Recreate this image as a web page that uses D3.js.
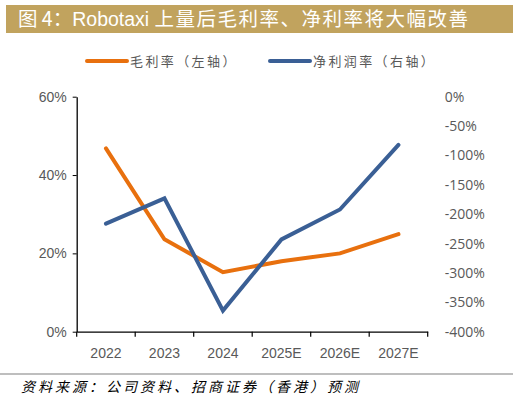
<!DOCTYPE html>
<html>
<head>
<meta charset="utf-8">
<script src="https://cdn.jsdelivr.net/npm/d3@7"></script>
<style>
  body { margin: 0; background: #fff; }
  svg { display: block; font-family: "Liberation Sans", Arial, sans-serif; }
</style>
</head>
<body>
<svg id="chart" width="518" height="401"></svg>
<script>
const years = ["2022", "2023", "2024", "2025E", "2026E", "2027E"];
const grossMargin = [46.8, 23.6, 15.2, 18.0, 20.0, 24.9];
const netMargin = [-216, -173, -364, -243, -192, -82];
const leftTicks = [0, 20, 40, 60];
const rightTicks = [0, -50, -100, -150, -200, -250, -300, -350, -400];

const svg = d3.select("#chart");
const cjk = '"Noto Sans CJK SC", sans-serif';

// title bar
svg.append("rect")
    .attr("x", 6).attr("y", 5)
    .attr("width", 507).attr("height", 28)
    .attr("fill", "#C1A35E");
const title = svg.append("text")
    .attr("x", 18).attr("y", 26)
    .attr("fill", "#fff")
    .attr("font-size", 19.5)
    .attr("font-family", cjk);
title.append("tspan").text("图 4：");
title.append("tspan").attr("font-family", '"Liberation Sans", sans-serif').text("Robotaxi ");
title.append("tspan").attr("letter-spacing", 1.5).text("上量后毛利率、净利率将大幅改善");

const plotLeft = 76.7, plotRight = 427.7, plotTop = 96.7, plotBottom = 331.7;

const x = d3.scaleBand().domain(years).range([plotLeft, plotRight]);
const yL = d3.scaleLinear().domain([0, 60]).range([plotBottom, plotTop]);
const yR = d3.scaleLinear().domain([-400, 0]).range([plotBottom, plotTop]);

// left axis
const gL = svg.append("g")
    .attr("transform", `translate(${plotLeft},0)`)
    .call(d3.axisLeft(yL).tickValues(leftTicks).tickFormat(d => d + "%").tickSize(4).tickSizeOuter(0));
gL.select(".domain").attr("stroke", "#000").attr("stroke-width", 1.3);
gL.selectAll(".tick line").attr("stroke", "#000");
gL.selectAll("text").attr("fill", "#595959").attr("font-size", 14).attr("x", -10);

// right axis (labels only)
const gR = svg.append("g")
    .attr("transform", `translate(${plotRight},0)`)
    .call(d3.axisRight(yR).tickValues(rightTicks).tickFormat(d => d + "%").tickSize(0));
gR.select(".domain").remove();
gR.selectAll("text").attr("fill", "#595959").attr("font-size", 14).attr("x", 17)
    .attr("font-family", '"Open Sans", sans-serif');

// bottom axis
const gB = svg.append("g")
    .attr("transform", `translate(0,${plotBottom})`)
    .call(d3.axisBottom(x).tickSize(0));
gB.select(".domain").attr("stroke", "#000").attr("stroke-width", 1.3);
gB.selectAll("text").attr("fill", "#595959").attr("font-size", 14).attr("dy", 0).attr("y", 26);
const bounds = years.map(d => x(d)).concat([plotRight]);
gB.selectAll(".sep").data(bounds).enter().append("line")
    .attr("x1", d => d).attr("x2", d => d)
    .attr("y1", 0).attr("y2", 5)
    .attr("stroke", "#000").attr("stroke-width", 1.2);

const cx = d => x(d) + x.bandwidth() / 2;

svg.append("path")
    .datum(grossMargin)
    .attr("fill", "none")
    .attr("stroke", "#E8700E")
    .attr("stroke-width", 4)
    .attr("stroke-linecap", "round")
    .attr("d", d3.line().x((d, i) => cx(years[i])).y(d => yL(d)));

svg.append("path")
    .datum(netMargin)
    .attr("fill", "none")
    .attr("stroke", "#3A5F95")
    .attr("stroke-width", 4)
    .attr("stroke-linecap", "round")
    .attr("d", d3.line().x((d, i) => cx(years[i])).y(d => yR(d)));

// legend
const legend = [
    { label: "毛利率（左轴）", color: "#E8700E", x: 87 },
    { label: "净利润率（右轴）", color: "#3A5F95", x: 270 }
];
legend.forEach(l => {
    svg.append("line")
        .attr("x1", l.x).attr("x2", l.x + 40)
        .attr("y1", 61).attr("y2", 61)
        .attr("stroke", l.color).attr("stroke-width", 4)
        .attr("stroke-linecap", "round");
    svg.append("text")
        .attr("x", l.x + 43).attr("y", 66)
        .attr("fill", "#595959")
        .attr("font-size", 13)
        .attr("letter-spacing", 2.4)
        .attr("font-family", cjk)
        .text(l.label);
});

// footer
svg.append("line")
    .attr("x1", 0).attr("x2", 513)
    .attr("y1", 374).attr("y2", 374)
    .attr("stroke", "#7f7f7f").attr("stroke-width", 1.2);
svg.append("text")
    .attr("x", 21).attr("y", 392)
    .attr("font-size", 14)
    .attr("letter-spacing", 3.0)
    .attr("font-style", "italic")
    .attr("font-family", cjk)
    .attr("fill", "#000")
    .text("资料来源：公司资料、招商证券（香港）预测");
</script>
</body>
</html>
